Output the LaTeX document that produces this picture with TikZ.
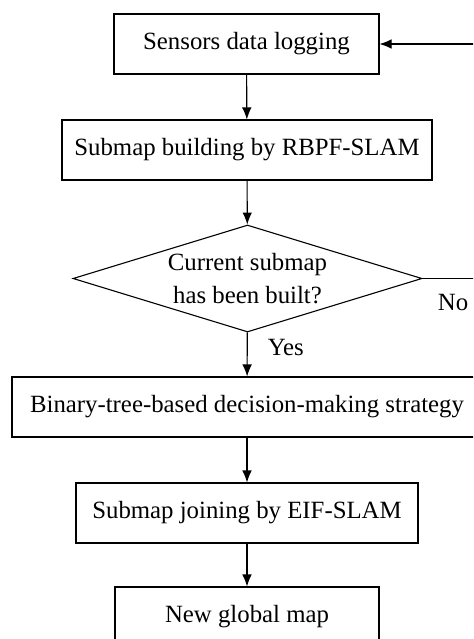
\documentclass[tikz,border=0pt,12pt]{standalone}
\usepackage{fontspec}
\setmainfont{Liberation Serif}
\usepackage{tikz}
\usetikzlibrary{arrows.meta}
\usetikzlibrary{shapes.geometric}

\begin{document}
\begin{tikzpicture}[x=0.5pt,y=-0.5pt,line width=0.55pt,
  font=\fontsize{12.4pt}{16.5pt}\selectfont,
  box/.style={draw,minimum height=30pt,inner sep=0pt},
  arr/.style={-{Latex[length=6pt,width=4.8pt]}}]
\clip (0,0) rectangle (473,639);
\draw[] (246.5,44) node[box,minimum width=132.5pt] (logging) {Sensors data logging};
\draw[] (247,150) node[box,minimum width=185pt] (building) {Submap building by RBPF-SLAM};
\draw[] (247.5,278.5) node[draw,diamond,aspect=3.26,inner sep=0pt,minimum width=174.5pt,minimum height=53.5pt,align=center] (built) {Current submap\\has been built?};
\draw[] (247,407) node[box,minimum width=235pt] (strategy) {Binary-tree-based decision-making strategy};
\draw[] (247,513) node[box,minimum width=171pt] (joining) {Submap joining by EIF-SLAM};
\draw[] (247,617) node[box,minimum width=132pt] (global) {New global map};
\coordinate (loop) at (490,44);
\draw[arr] (logging) -- (building);
\draw[arr] (building) -- (built);
\draw[arr] (built) -- node[pos=0.33,right=6pt] (yes) {Yes} (strategy);
\draw[arr] (strategy) -- (joining);
\draw[arr] (joining) -- (global);
\draw[arr] (built.east) -- (built.east -| loop) |- (logging.east);
\draw[] (453,302) node (no) {No};
\end{tikzpicture}
\end{document}
